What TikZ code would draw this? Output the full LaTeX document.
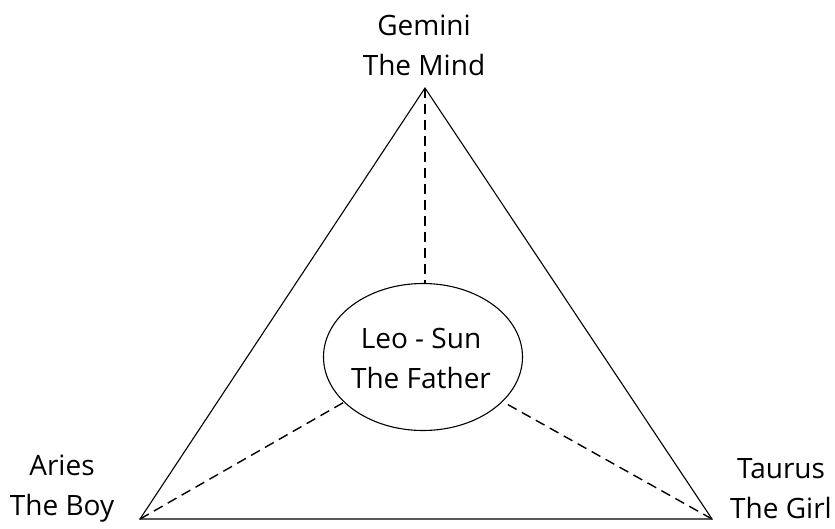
\documentclass[tikz,border=0pt]{standalone}
\usepackage{fontspec}
\setmainfont{Open Sans}
\usetikzlibrary{shapes.geometric}
\begin{document}
\begin{tikzpicture}[x=1pt,y=-1pt,
  lbl/.style={align=center,inner sep=0pt,font=\fontsize{28}{40}\selectfont},
  edgeline/.style={draw=black,line width=1.1pt},
  dashline/.style={draw=black,line width=1.4pt,dash pattern=on 10pt off 6pt}]
\useasboundingbox (0,0) rectangle (835,528);
\coordinate (top) at (425,88);
\coordinate (bl) at (140,519);
\coordinate (br) at (712,519);
\node[ellipse,draw,line width=1.1pt,minimum width=199pt,minimum height=147pt,inner sep=0pt] (leo) at (423,357) {};
\node[lbl] (leot) at (421,358) {Leo - Sun\\The Father};
\node[lbl] (gem) at (424,45) {Gemini\\The Mind};
\node[lbl] (ari) at (62,489) {Aries\\The Boy};
\node[lbl] (tau) at (781,489) {Taurus\\The Girl};
\draw[edgeline,line join=miter] (top) -- (bl) -- (br) -- cycle;
\draw[dashline] (top) -- (top |- leo.north);
\draw[dashline] (bl) -- (leo);
\draw[dashline] (br) -- (leo);
\end{tikzpicture}
\end{document}
